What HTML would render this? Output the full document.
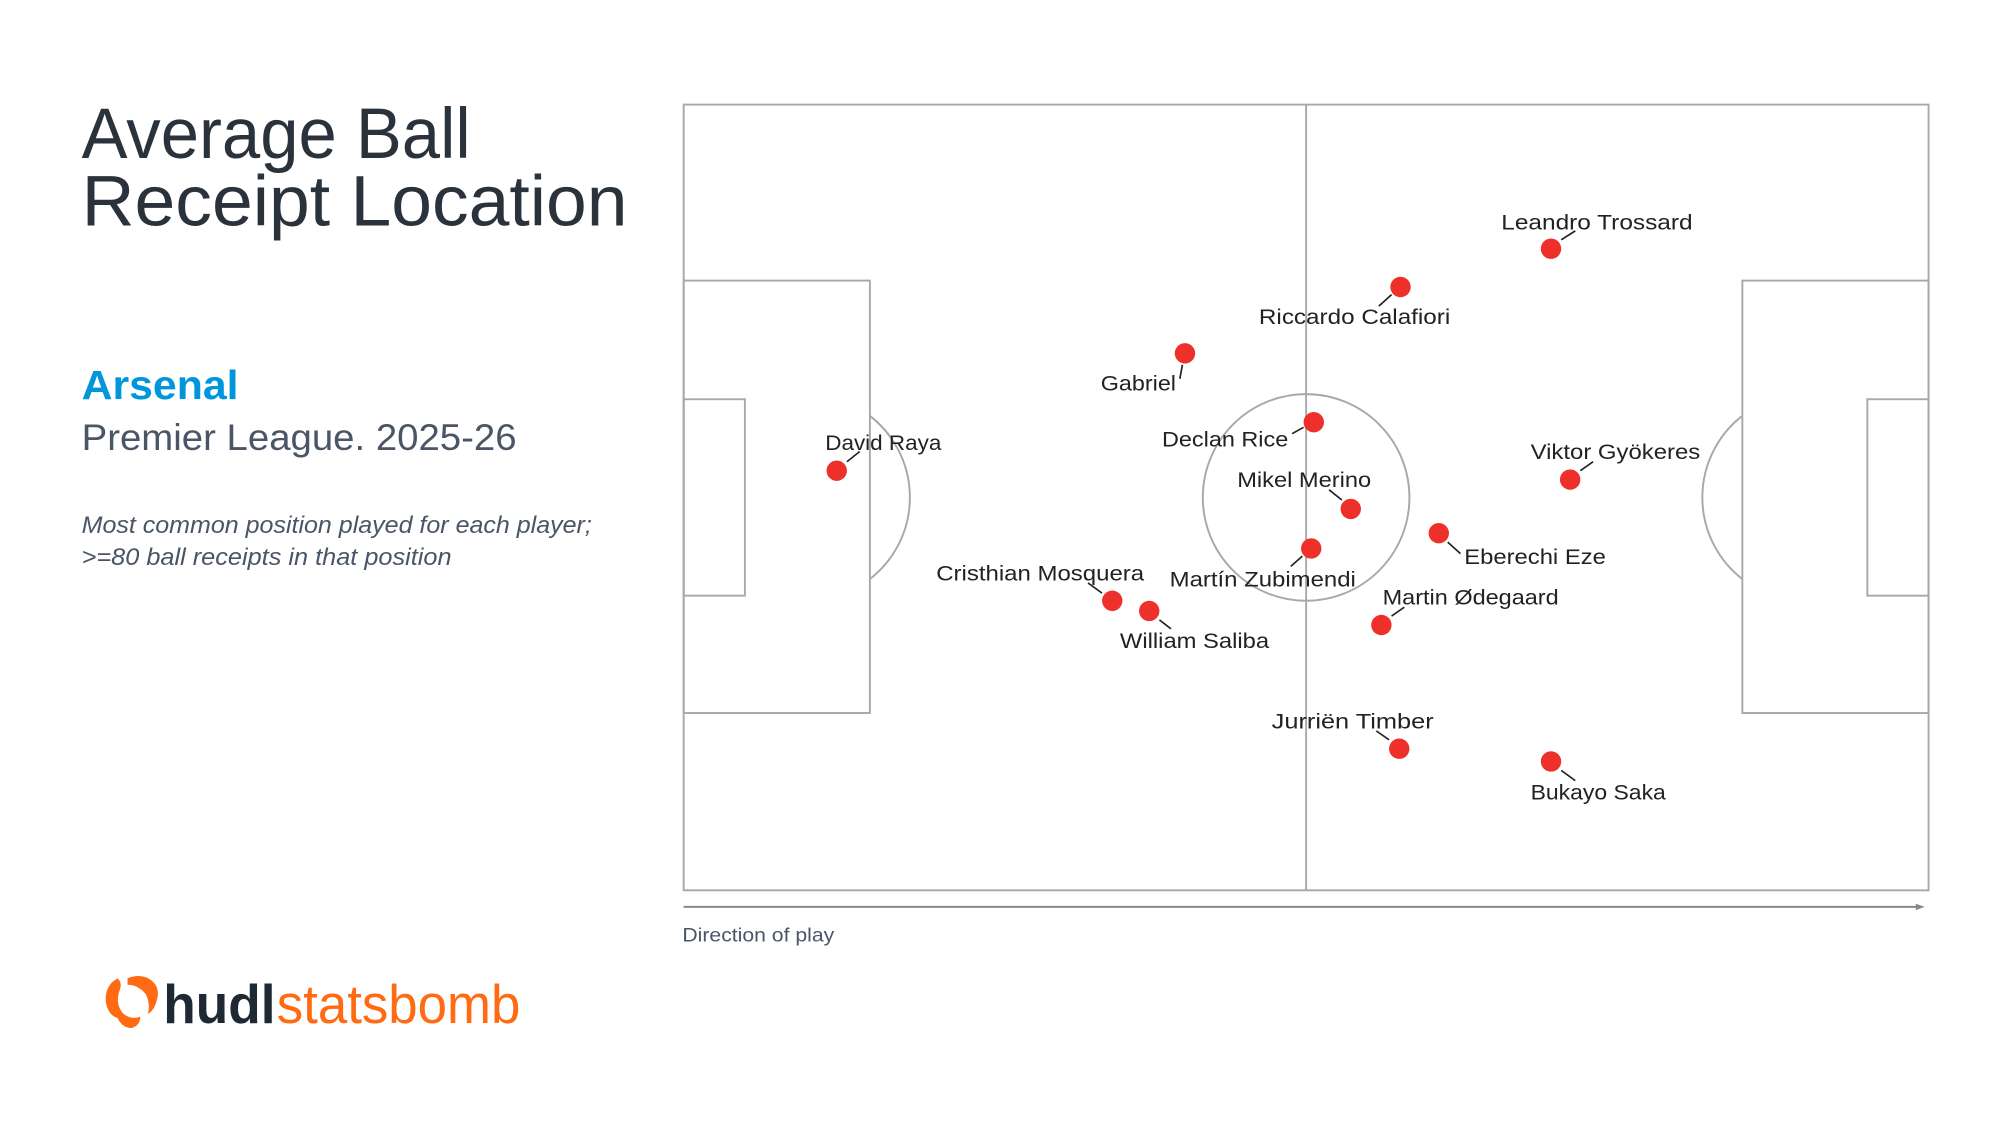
<!DOCTYPE html>
<html><head><meta charset="utf-8"><style>
html,body{margin:0;padding:0;background:#fff;width:2000px;height:1125px;overflow:hidden}
svg{display:block}
text{font-family:"Liberation Sans",sans-serif}
</style></head><body>
<svg width="2000" height="1125" viewBox="0 0 1568 882" preserveAspectRatio="none" xmlns="http://www.w3.org/2000/svg">
<rect width="1568" height="882" fill="#fff"/>
<text x="64" y="124" font-size="56" fill="#2a323c" textLength="305" lengthAdjust="spacingAndGlyphs">Average Ball</text>
<text x="64" y="177" font-size="56" fill="#2a323c" textLength="428" lengthAdjust="spacingAndGlyphs">Receipt Location</text>
<text x="64" y="313" font-size="32" font-weight="bold" fill="#0096dc" textLength="123" lengthAdjust="spacingAndGlyphs">Arsenal</text>
<text x="64" y="353" font-size="29" fill="#4a5566" textLength="341" lengthAdjust="spacingAndGlyphs">Premier League. 2025-26</text>
<text x="64" y="418" font-size="19" font-style="italic" fill="#4a5566" textLength="400" lengthAdjust="spacingAndGlyphs">Most common position played for each player;</text>
<text x="64" y="443" font-size="19" font-style="italic" fill="#4a5566" textLength="290" lengthAdjust="spacingAndGlyphs">&gt;=80 ball receipts in that position</text>
<g fill="none" stroke="#a8a8a8" stroke-width="1.5">
<rect x="536" y="82" width="976" height="616"/>
<line x1="1024" y1="82" x2="1024" y2="698"/>
<circle cx="1024" cy="390" r="81"/>
<rect x="536" y="220" width="146" height="339"/>
<rect x="536" y="313" width="48" height="154"/>
<path d="M682 326 A81 81 0 0 1 682 454"/>
<rect x="1366" y="220" width="146" height="339"/>
<rect x="1464" y="313" width="48" height="154"/>
<path d="M1366 326 A81 81 0 0 0 1366 454"/>
<line x1="536" y1="711" x2="1505" y2="711" stroke="#888"/>
</g>
<path d="M1509 711 L1502 708.5 L1502 713.5Z" fill="#888"/>
<text x="535" y="738" font-size="15" fill="#4a5566" textLength="119" lengthAdjust="spacingAndGlyphs">Direction of play</text>
<g stroke="#222" stroke-width="1.3">
<line x1="664" y1="362" x2="674" y2="354"/>
<line x1="927" y1="286" x2="925" y2="297"/>
<line x1="1091" y1="231" x2="1081" y2="240"/>
<line x1="1224" y1="188" x2="1235" y2="181"/>
<line x1="1022" y1="335" x2="1013" y2="340"/>
<line x1="1052" y1="392" x2="1042" y2="384"/>
<line x1="1021" y1="436" x2="1012" y2="444"/>
<line x1="1135" y1="425" x2="1145" y2="434"/>
<line x1="1239" y1="369" x2="1249" y2="362"/>
<line x1="864" y1="465" x2="853" y2="457"/>
<line x1="909" y1="486" x2="918" y2="493"/>
<line x1="1091" y1="483" x2="1101" y2="476"/>
<line x1="1089" y1="580" x2="1079" y2="573"/>
<line x1="1224" y1="604" x2="1235" y2="612"/>
</g>
<g fill="#ee302b">
<circle cx="656" cy="369" r="8"/><circle cx="929" cy="277" r="8"/><circle cx="1098" cy="225" r="8"/>
<circle cx="1216" cy="195" r="8"/><circle cx="1030" cy="331" r="8"/><circle cx="1059" cy="399" r="8"/>
<circle cx="1028" cy="430" r="8"/><circle cx="1128" cy="418" r="8"/><circle cx="1231" cy="376" r="8"/>
<circle cx="872" cy="471" r="8"/><circle cx="901" cy="479" r="8"/><circle cx="1083" cy="490" r="8"/>
<circle cx="1097" cy="587" r="8"/><circle cx="1216" cy="597" r="8"/>
</g>
<g font-size="17" fill="#222">
<text x="647" y="353" textLength="91" lengthAdjust="spacingAndGlyphs">David Raya</text>
<text x="863" y="306" textLength="59" lengthAdjust="spacingAndGlyphs">Gabriel</text>
<text x="987" y="254" textLength="150" lengthAdjust="spacingAndGlyphs">Riccardo Calafiori</text>
<text x="1177" y="180" textLength="150" lengthAdjust="spacingAndGlyphs">Leandro Trossard</text>
<text x="911" y="350" textLength="99" lengthAdjust="spacingAndGlyphs">Declan Rice</text>
<text x="970" y="382" textLength="105" lengthAdjust="spacingAndGlyphs">Mikel Merino</text>
<text x="917" y="460" textLength="146" lengthAdjust="spacingAndGlyphs">Martín Zubimendi</text>
<text x="1148" y="442" textLength="111" lengthAdjust="spacingAndGlyphs">Eberechi Eze</text>
<text x="1200" y="360" textLength="133" lengthAdjust="spacingAndGlyphs">Viktor Gyökeres</text>
<text x="734" y="455" textLength="163" lengthAdjust="spacingAndGlyphs">Cristhian Mosquera</text>
<text x="878" y="508" textLength="117" lengthAdjust="spacingAndGlyphs">William Saliba</text>
<text x="1084" y="474" textLength="138" lengthAdjust="spacingAndGlyphs">Martin Ødegaard</text>
<text x="997" y="571" textLength="127" lengthAdjust="spacingAndGlyphs">Jurriën Timber</text>
<text x="1200" y="627" textLength="106" lengthAdjust="spacingAndGlyphs">Bukayo Saka</text>
</g>
<g fill="#ff6a13">
<path d="M88 770 Q82 776 83 786 Q85 796 92 798 Q96 806 103 806 Q110 804 110 797 Q102 800 96 794 Q90 786 94 776 Q96 770 92 767Z"/>
<path d="M100 767 Q110 763 118 768 Q126 774 123 784 Q121 792 116 795 Q118 786 114 779 Q108 772 100 772Z"/>
</g>
<text x="128" y="802" font-size="43" font-weight="bold" fill="#1f2933" textLength="88" lengthAdjust="spacingAndGlyphs">hudl</text>
<text x="217" y="802" font-size="43" fill="#ff6a13" textLength="191" lengthAdjust="spacingAndGlyphs">statsbomb</text>
</svg>
</body></html>
